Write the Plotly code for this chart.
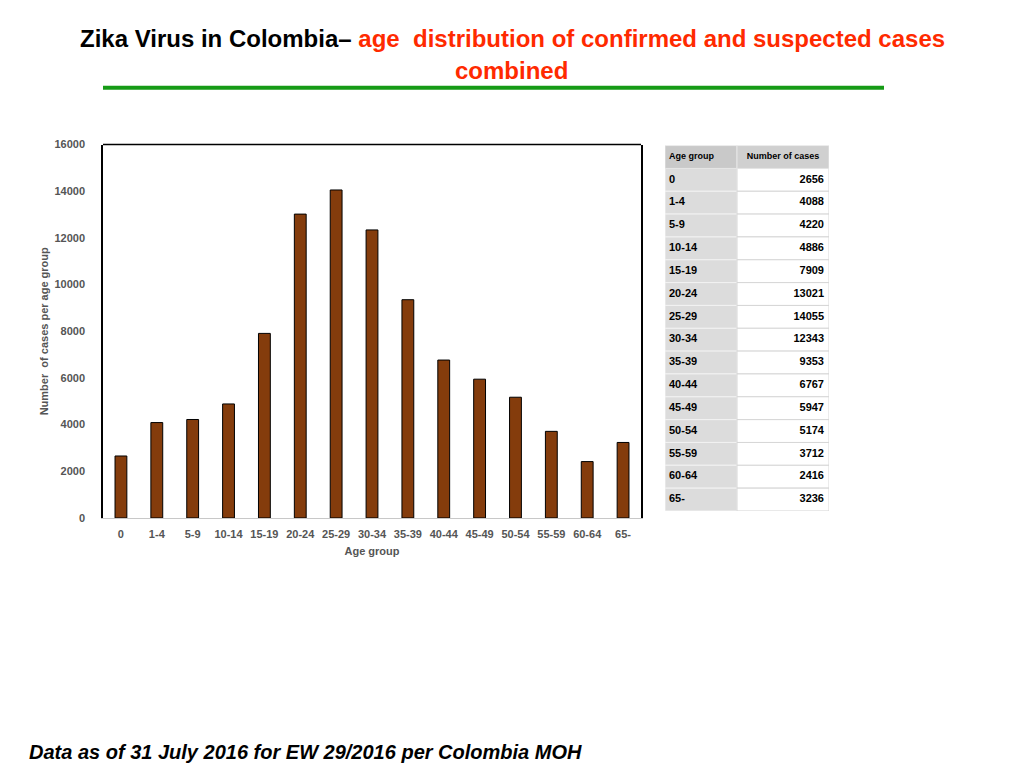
import plotly.graph_objects as go

# Zika cases by age group, Colombia MOH (EW 29/2016)
age_groups = ['0', '1-4', '5-9', '10-14', '15-19', '20-24', '25-29', '30-34',
              '35-39', '40-44', '45-49', '50-54', '55-59', '60-64', '65-']
cases = [2656, 4088, 4220, 4886, 7909, 13021, 14055, 12343,
         9353, 6767, 5947, 5174, 3712, 2416, 3236]
y_ticks = [0, 2000, 4000, 6000, 8000, 10000, 12000, 14000, 16000]
table_header = ['Age group', 'Number of cases']

W, H = 1024, 768
font_main = 'Liberation Sans, Arial, sans-serif'
grey_txt = '#555555'


# page positions are given in pixels from the top-left corner
def px(x):
    return (x - 8) / W


def py(y):
    return 1 - (y - 13.2) / 0.986 / H


fig = go.Figure()

fig.add_trace(go.Bar(
    x=age_groups, y=cases,
    marker=dict(color='#843c0c', line=dict(color='black', width=1)),
    width=0.33,
    showlegend=False, hoverinfo='x+y',
))

# --- table drawn on its own pair of axes ---
col1_w, col2_w = 72, 92
rows = [table_header[0]] + age_groups

fig.add_trace(go.Bar(
    orientation='h', y=age_groups, x=[col1_w] * len(age_groups), base=0, width=1,
    marker=dict(color='#dcdcdc', line=dict(color='#f2f2f2', width=1)),
    xaxis='x2', yaxis='y2', showlegend=False, hoverinfo='skip',
))
fig.add_trace(go.Bar(
    orientation='h', y=age_groups, x=[col2_w] * len(age_groups), base=col1_w, width=1,
    marker=dict(color='white', line=dict(color='#d6d6d6', width=1)),
    xaxis='x2', yaxis='y2', showlegend=False, hoverinfo='skip',
))
fig.add_trace(go.Bar(
    orientation='h', y=[table_header[0]] * 2, x=[col1_w, col2_w], base=[0, col1_w], width=1,
    marker=dict(color=['#c9c9c9', '#d0d0d0'], line=dict(color='#e6e6e6', width=1)),
    xaxis='x2', yaxis='y2', showlegend=False, hoverinfo='skip',
))
fig.add_trace(go.Scatter(
    x=[4, col1_w + col2_w / 2], y=[table_header[0]] * 2, text=table_header,
    mode='text', textposition=['middle right', 'middle center'],
    textfont=dict(family=font_main, size=9, color='black', weight='bold'),
    xaxis='x2', yaxis='y2', showlegend=False, hoverinfo='skip',
))
fig.add_trace(go.Scatter(
    x=[4] * len(age_groups), y=age_groups, text=age_groups,
    mode='text', textposition='middle right',
    textfont=dict(family=font_main, size=11, color='black', weight='bold'),
    xaxis='x2', yaxis='y2', showlegend=False, hoverinfo='skip',
))
fig.add_trace(go.Scatter(
    x=[col1_w + col2_w - 5] * len(cases), y=age_groups, text=[str(c) for c in cases],
    mode='text', textposition='middle left',
    textfont=dict(family=font_main, size=11, color='black', weight='bold'),
    xaxis='x2', yaxis='y2', showlegend=False, hoverinfo='skip',
))

fig.update_layout(
    width=W, height=H,
    margin=dict(l=0, r=0, t=0, b=0),
    paper_bgcolor='white', plot_bgcolor='white',
    font=dict(family=font_main),
    barmode='overlay',
    xaxis=dict(
        domain=[px(103), px(641)],
        showline=True, linecolor='#c8c8c8', linewidth=1,
        ticks='', showgrid=False,
        ticklabelstandoff=6,
        tickfont=dict(size=11, color=grey_txt, family=font_main, weight='bold'),
        title=dict(text='Age group', standoff=8,
                   font=dict(size=11, color=grey_txt, weight='bold')),
    ),
    yaxis=dict(
        domain=[py(518), py(144)],
        range=[0, 16000], tickvals=y_ticks, tickformat='d',
        showline=True, linecolor='black', linewidth=1.5, mirror=True,
        ticks='', showgrid=False, zeroline=False,
        ticklabelstandoff=14,
        tickfont=dict(size=11, color=grey_txt, family=font_main, weight='bold'),
        title=dict(text='Number  of cases per age group', standoff=4,
                   font=dict(size=11, color=grey_txt, weight='bold')),
    ),
    xaxis2=dict(domain=[px(665), px(829)], range=[0, col1_w + col2_w],
                anchor='y2', visible=False, fixedrange=True),
    yaxis2=dict(domain=[py(511), py(145)], type='category', categoryarray=rows,
                categoryorder='array', range=[len(rows) - 0.5, -0.5],
                anchor='x2', visible=False, fixedrange=True),
)

# top border of the plot frame
fig.add_shape(type='line', xref='x domain', yref='y domain',
              x0=0, x1=1, y0=1, y1=1, line=dict(color='black', width=1.5))

# title
fig.add_annotation(
    xref='paper', yref='paper', x=px(512), y=py(38), xanchor='center', yanchor='middle',
    text='<b>Zika Virus in Colombia</b><b>–</b> '
         '<b><span style="color:#ff2a00">age  distribution of confirmed and suspected cases</span></b>',
    showarrow=False, font=dict(family=font_main, size=24, color='black'),
)
fig.add_annotation(
    xref='paper', yref='paper', x=px(511), y=py(70), xanchor='center', yanchor='middle',
    text='<b>combined</b>', showarrow=False,
    font=dict(family=font_main, size=24, color='#ff2a00'),
)
fig.add_shape(type='line', xref='paper', yref='paper',
              x0=px(103), x1=px(884), y0=py(87), y1=py(87),
              line=dict(color='#169b16', width=4))

# footer
fig.add_annotation(
    xref='paper', yref='paper', x=px(27), y=py(752), xanchor='left', yanchor='middle',
    text='<b><i>Data as of 31 July 2016 for EW 29/2016 per Colombia MOH</i></b>',
    showarrow=False, font=dict(family=font_main, size=20, color='black'),
)

fig.write_html("out.html")
